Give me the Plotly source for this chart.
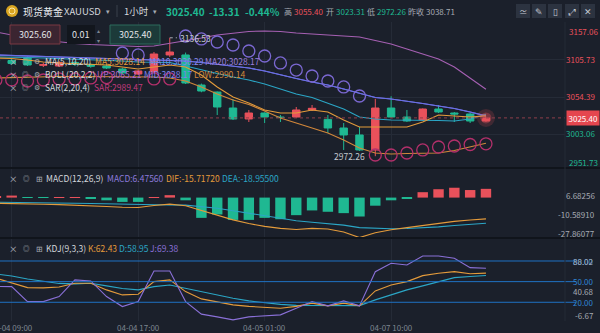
import plotly.graph_objects as go

# ---------------- data ----------------
time_labels = ["04-04 09:00", "04-04 17:00", "04-05 01:00", "04-07 10:00"]
time_label_idx = [1, 9, 17, 25]

opens = [3106.0, 3105.0, 3108.5, 3098.4, 3097.4, 3102.3, 3099.5, 3097.4, 3093.2, 3086.3,
         3089.1, 3112.7, 3112.7, 3071.0, 3061.3, 3039.1, 3023.9, 3032.2, 3026.6, 3026.6,
         3036.4, 3023.31, 3011.4, 3001.7, 2980.9, 3039.1, 3026.6, 3022.5, 3037.7, 3032.2,
         3030.8, 3021.1]
highs = [3109.0, 3108.0, 3110.6, 3102.0, 3104.3, 3104.3, 3101.0, 3099.5, 3095.0, 3092.0,
         3116.8, 3136.53, 3116.0, 3073.0, 3062.0, 3051.6, 3036.4, 3033.0, 3029.4, 3040.5,
         3043.3, 3029.4, 3018.3, 3012.8, 3052.0, 3055.40, 3036.4, 3038.5, 3043.3, 3033.6,
         3032.2, 3027.0]
lows = [3102.0, 3099.0, 3097.4, 3096.0, 3096.0, 3097.4, 3095.0, 3093.2, 3086.3, 3084.9,
        3088.0, 3109.9, 3072.4, 3061.0, 3029.4, 3022.5, 3019.7, 3018.3, 3019.7, 3025.3,
        3035.0, 3004.5, 2980.9, 2979.5, 2972.26, 3025.3, 3019.7, 3021.1, 3032.2, 3019.7,
        3018.3, 3020.0]
closes = [3104.0, 3101.0, 3098.8, 3099.2, 3102.3, 3099.5, 3097.0, 3094.6, 3087.7, 3090.5,
          3114.0, 3116.8, 3073.8, 3062.7, 3040.5, 3023.9, 3032.2, 3026.6, 3025.9, 3036.4,
          3038.71, 3011.4, 3001.7, 2980.9, 3039.1, 3026.6, 3021.1, 3037.7, 3033.6, 3030.8,
          3021.1, 3025.40]

ma5 = [3108.5, 3107.8, 3105.7, 3103.0, 3101.6, 3100.9, 3100.2, 3098.8, 3096.0, 3093.2,
       3096.0, 3098.8, 3096.0, 3084.9, 3068.3, 3054.4, 3046.1, 3036.4, 3032.2, 3032.2,
       3036.4, 3033.6, 3022.5, 3012.8, 3012.8, 3012.8, 3012.8, 3019.7, 3029.4, 3028.0,
       3026.6, 3028.14]
ma10 = [3109.9, 3109.9, 3109.2, 3108.5, 3107.8, 3107.1, 3106.4, 3105.7, 3104.3, 3103.0,
        3103.0, 3102.3, 3097.4, 3091.8, 3087.0, 3082.1, 3078.0, 3072.4, 3065.5, 3058.6,
        3053.7, 3046.1, 3037.7, 3026.6, 3023.9, 3022.5, 3022.5, 3022.5, 3021.8, 3021.1,
        3023.9, 3030.29]
ma20 = [3112.7, 3112.0, 3111.3, 3110.6, 3109.9, 3109.2, 3108.5, 3107.8, 3107.1, 3106.4,
        3105.7, 3105.0, 3104.3, 3102.3, 3099.5, 3096.7, 3094.6, 3090.5, 3084.9, 3080.1,
        3075.2, 3071.0, 3065.5, 3059.9, 3053.7, 3051.6, 3048.8, 3045.4, 3041.9, 3038.4,
        3033.6, 3028.17]
boll_up = [3144.6, 3140.4, 3136.2, 3133.5, 3130.7, 3128.6, 3127.2, 3126.5, 3125.1, 3124.5,
           3125.1, 3128.6, 3132.1, 3136.2, 3140.4, 3143.2, 3145.3, 3146.0, 3145.3, 3143.2,
           3141.8, 3140.4, 3139.0, 3137.6, 3132.8, 3127.9, 3121.0, 3114.0, 3107.1, 3096.0,
           3080.8, 3065.21]
boll_mid = [3112.7, 3112.0, 3111.3, 3110.6, 3109.9, 3109.2, 3108.5, 3107.8, 3107.1, 3106.4,
            3105.7, 3105.0, 3104.3, 3102.3, 3099.5, 3096.7, 3094.6, 3090.5, 3084.9, 3080.1,
            3075.2, 3071.0, 3065.5, 3059.9, 3053.7, 3051.6, 3048.8, 3045.4, 3041.9, 3038.4,
            3033.6, 3028.17]
boll_low = [3080.8, 3081.4, 3082.1, 3082.8, 3082.8, 3082.8, 3082.8, 3082.1, 3082.1, 3082.1,
            3082.1, 3080.8, 3076.6, 3068.3, 3058.6, 3050.2, 3044.0, 3035.0, 3025.3, 3018.3,
            3011.4, 3004.5, 2994.7, 2983.6, 2976.7, 2975.3, 2976.0, 2976.7, 2976.7, 2980.2,
            2985.0, 2990.14]
sar = [3078.0, 3078.0, 3076.6, 3078.0, 3079.4, 3079.4, 3080.8, 3081.4, 3115.4, 3112.7,
       3079.4, 3079.4, 3139.0, 3134.9, 3130.7, 3126.5, 3118.2, 3111.3, 3101.6, 3091.8,
       3083.5, 3076.6, 3068.3, 3055.8, 2973.9, 2973.9, 2976.7, 2980.9, 2985.0, 2986.4,
       2988.5, 2989.47]

dif = [-4.2, -4.3, -4.6, -4.9, -5.2, -5.5, -6.0, -6.6, -7.2, -7.3, -5.8, -4.8, -6.0, -9.5,
       -13.0, -16.5, -19.2, -21.3, -22.8, -23.6, -22.8, -23.2, -25.5, -29.6, -26.0, -23.8,
       -22.2, -20.5, -19.0, -17.6, -16.6, -15.7172]
dea = [-3.45, -3.5, -3.6, -3.8, -4.0, -4.2, -4.4, -4.7, -5.0, -5.3, -5.5, -5.5, -5.6, -6.5,
       -7.9, -9.7, -11.6, -13.6, -15.4, -17.1, -18.2, -19.2, -20.4, -22.2, -22.9, -23.1,
       -22.9, -22.4, -21.7, -20.7, -19.9, -18.955]
macd_hist = [0.9, 1.5, -0.3, -0.3, 0.3, 0.3, -0.4, -2.0, -3.2, -3.2, 0.3, 1.8, -2.0, -15.0,
             -12.5, -16.5, -16.5, -15.0, -16.0, -13.0, -9.5, -10.5, -11.5, -14.0, -6.0, -2.0,
             -0.7, 4.0, 6.2, 7.3, 5.6, 6.4756]

k_line = [55.0, 48.5, 41.3, 40.9, 42.3, 47.7, 47.7, 38.0, 30.7, 31.7, 50.0, 52.5, 35.5, 24.9,
          20.6, 16.2, 14.0, 12.6, 11.4, 14.0, 18.7, 14.8, 18.7, 14.8, 36.5, 45.2, 50.0, 58.7,
          62.2, 64.5, 61.5, 62.43]
d_line = [61.0, 58.3, 53.9, 50.3, 47.4, 46.7, 47.7, 43.8, 40.1, 38.0, 42.8, 45.2, 40.1, 35.5,
          30.7, 25.9, 22.0, 19.1, 17.0, 15.5, 15.5, 16.2, 15.8, 15.2, 23.5, 30.7, 38.0, 43.8,
          50.0, 55.8, 57.5, 58.95]
j_line = [43.0, 42.8, 21.0, 21.0, 28.3, 52.5, 51.0, 28.3, 13.8, 21.0, 65.5, 65.5, 21.0, 2.8,
          -1.2, -5.5, -1.2, 0.7, 1.7, 11.2, 21.0, 14.8, 22.0, 14.8, 64.5, 76.7, 74.2, 87.2,
          87.2, 83.9, 70.3, 69.38]

price_ticks = [3105.73, 3054.39, 3003.06]
last_price = 3025.40
kdj_levels = [80, 50, 20]

# ---------------- style ----------------
BG = "#1b202b"
GRID = "#252b37"
RED = "#e9515b"
GREEN = "#1fb892"
ORANGE = "#e49b3b"
ORANGE2 = "#d2873a"
CYAN = "#2ba6c6"
VIOLET = "#6b6fe3"
UPC = "#a660b3"
SAR_HI = "#7b68d2"
SAR_LO = "#b3306b"
PURPLE = "#8a70d8"
TXT = "#d3d6dc"
GREY = "#a6abb3"
KBLUE = "#1f72c4"
FONT = "Noto Sans CJK SC, Noto Sans, sans-serif"

W, H = 600, 333
MB = 12
PH = H - MB          # plot-area height (px)
XR = 565             # right edge of the panes (px)


def xp(px):
    return px / W


def yp(px):
    return (PH - px) / PH


n = len(closes)
idx = list(range(n))
x_lo, x_hi = 0.26, 36.0

fig = go.Figure()

# ---- main pane ----
fig.add_trace(go.Candlestick(
    x=idx, open=opens, high=highs, low=lows, close=closes,
    increasing=dict(line=dict(color=RED, width=1), fillcolor=RED),
    decreasing=dict(line=dict(color=GREEN, width=1), fillcolor=GREEN),
    whiskerwidth=0, xaxis="x", yaxis="y", hoverinfo="skip"))

for series, color in [(boll_up, UPC), (boll_low, ORANGE2), (boll_mid, VIOLET),
                      (ma20, VIOLET), (ma10, CYAN), (ma5, ORANGE)]:
    fig.add_trace(go.Scatter(x=idx, y=series, mode="lines", xaxis="x", yaxis="y",
                             line=dict(color=color, width=1.1), hoverinfo="skip"))

sar_colors = [SAR_HI if s > c else SAR_LO for s, c in zip(sar, closes)]
fig.add_trace(go.Scatter(x=idx, y=sar, mode="markers", xaxis="x", yaxis="y",
                         marker=dict(symbol="circle-open", size=12, color=sar_colors,
                                     line=dict(width=1.3)), hoverinfo="skip"))

# soft glow on the live candle
for sz, op in [(18, 0.18), (11, 0.35)]:
    fig.add_trace(go.Scatter(x=[idx[-1]], y=[last_price], mode="markers", xaxis="x", yaxis="y",
                             marker=dict(size=sz, color=f"rgba(233,81,91,{op})"),
                             hoverinfo="skip"))

# ---- MACD pane ----
fig.add_trace(go.Bar(x=idx, y=macd_hist, xaxis="x2", yaxis="y2", width=0.66,
                     marker=dict(color=[RED if v >= 0 else GREEN for v in macd_hist],
                                 line=dict(width=0)), hoverinfo="skip"))
fig.add_trace(go.Scatter(x=idx, y=dea, mode="lines", xaxis="x2", yaxis="y2",
                         line=dict(color=CYAN, width=1.1), hoverinfo="skip"))
fig.add_trace(go.Scatter(x=idx, y=dif, mode="lines", xaxis="x2", yaxis="y2",
                         line=dict(color=ORANGE, width=1.1), hoverinfo="skip"))

# ---- KDJ pane ----
for series, color in [(d_line, CYAN), (k_line, ORANGE), (j_line, PURPLE)]:
    fig.add_trace(go.Scatter(x=idx, y=series, mode="lines", xaxis="x3", yaxis="y3",
                             line=dict(color=color, width=1.1), hoverinfo="skip"))

# ---------------- axes ----------------
xcommon = dict(domain=[0, xp(XR)], range=[x_lo, x_hi], showgrid=True, gridcolor=GRID,
               gridwidth=1, zeroline=False, showline=False, ticks="",
               tickvals=time_label_idx, showticklabels=False,
               rangeslider=dict(visible=False), fixedrange=True)

tick_colored = [f"<span style='color:{RED if v > last_price else GREEN}'>{v:.2f}</span>"
                for v in price_ticks]

fig.update_layout(
    width=W, height=H,
    margin=dict(l=0, r=0, t=0, b=MB),
    paper_bgcolor=BG, plot_bgcolor=BG,
    showlegend=False, hovermode=False, boxgap=0.33,
    font=dict(family=FONT, color=TXT, size=9),
    xaxis=dict(**xcommon, anchor="y"),
    xaxis2=dict(**xcommon, anchor="y2", matches="x"),
    xaxis3=dict(**xcommon, anchor="y3", matches="x"),
    yaxis=dict(domain=[yp(168), yp(22)], range=[2955.89, 3158.44], side="right",
               anchor="x", tickvals=price_ticks, ticktext=tick_colored,
               tickfont=dict(size=8), showgrid=True, gridcolor=GRID, zeroline=False,
               ticks="", fixedrange=True),
    yaxis2=dict(domain=[yp(238), yp(168)], range=[-29.9, 21.9], anchor="x2",
                showticklabels=False, showgrid=False, zeroline=False, fixedrange=True),
    yaxis3=dict(domain=[0, yp(238)], range=[-7.2, 113.4], anchor="x3",
                showticklabels=False, showgrid=False, zeroline=False, fixedrange=True),
)

# ---------------- shapes ----------------
shapes = []
# KDJ reference levels
for lv in kdj_levels:
    shapes.append(dict(type="line", xref="paper", yref="y3", x0=0, x1=xp(576), y0=lv, y1=lv,
                       line=dict(color=KBLUE, width=1)))
# live price dotted line
shapes.append(dict(type="line", xref="paper", yref="y", x0=0, x1=xp(XR), y0=last_price,
                   y1=last_price, line=dict(color="#8e3f4a", width=1, dash="dot")))
# pane separators
for py_ in (168, 238):
    shapes.append(dict(type="line", xref="paper", yref="paper", x0=0, x1=1, y0=yp(py_),
                       y1=yp(py_), line=dict(color="#10141b", width=2)))
shapes.append(dict(type="line", xref="paper", yref="paper", x0=xp(XR), x1=xp(XR),
                   y0=0, y1=yp(22), line=dict(color=GRID, width=1)))
# pointer to the high label
shapes.append(dict(type="line", xref="x", yref="y", x0=11, x1=11.45, y0=3136.53, y1=3136.53,
                   line=dict(color=GREY, width=1, dash="dot")))
# header: coin icon, separator, tool buttons
shapes.append(dict(type="circle", xref="paper", yref="paper", x0=xp(6), x1=xp(18),
                   y0=yp(17), y1=yp(5), fillcolor="#d9a521", line=dict(width=0)))
shapes.append(dict(type="circle", xref="paper", yref="paper", x0=xp(9), x1=xp(15),
                   y0=yp(14), y1=yp(8), fillcolor="rgba(0,0,0,0)",
                   line=dict(color="#fbe7a8", width=1)))
shapes.append(dict(type="line", xref="paper", yref="paper", x0=xp(117), x1=xp(117),
                   y0=yp(17), y1=yp(5), line=dict(color="#3a404c", width=1)))
for cx in (523, 539, 555, 572, 588):
    shapes.append(dict(type="rect", xref="paper", yref="paper", x0=xp(cx - 7), x1=xp(cx + 7),
                       y0=yp(18), y1=yp(4), fillcolor="#2c3340", line=dict(width=0)))
# order-entry boxes
shapes.append(dict(type="rect", xref="paper", yref="paper", x0=xp(10), x1=xp(60),
                   y0=yp(44), y1=yp(25), fillcolor="#3b2531", line=dict(color="#7a3843", width=1)))
shapes.append(dict(type="rect", xref="paper", yref="paper", x0=xp(67), x1=xp(95),
                   y0=yp(44), y1=yp(25), fillcolor="#12161d", line=dict(width=0)))
shapes.append(dict(type="rect", xref="paper", yref="paper", x0=xp(110), x1=xp(160),
                   y0=yp(44), y1=yp(25), fillcolor="#1c3a39", line=dict(color="#2d6b5d", width=1)))
fig.update_layout(shapes=shapes)

# ---------------- annotations ----------------
anns = []


def ann(px, py, text, color=TXT, size=8.5, anchor="left", yref="paper", yval=None, **kw):
    anns.append(dict(x=xp(px), y=yp(py) if yval is None else yval, xref="paper", yref=yref,
                     text=text, showarrow=False, xanchor=anchor, yanchor="middle",
                     font=dict(color=color, size=size, family=FONT), **kw))


# time axis labels, centred on their candles (the first one runs off the left edge)
for tv, tl in zip(time_label_idx, time_labels):
    anns.append(dict(x=tv, xref="x3", y=yp(327.5), yref="paper", text=tl, showarrow=False,
                     xanchor="center", yanchor="middle",
                     font=dict(color="#7d8590", size=8, family=FONT)))

# header
ann(21, 11, "现货黄金", "#e8eaee", 10)
ann(62, 11, "XAUUSD", "#d3d6dc", 9.5)
ann(104, 11, "▾", GREY, 7)
ann(122, 11, "1小时", "#d3d6dc", 9.5)
ann(151, 11, "▾", GREY, 7)
ann(164, 11, "<b>3025.40</b>", GREEN, 10)
ann(207, 11, "<b>-13.31</b>", GREEN, 10)
ann(243, 11, "<b>-0.44%</b>", GREEN, 10)
ann(282, 11, "高", GREY, 8)
ann(292, 11, "3055.40", RED, 8)
ann(324, 11, "开", GREY, 8)
ann(334, 11, "3023.31", GREEN, 8)
ann(365, 11, "低", GREY, 8)
ann(375, 11, "2972.26", GREEN, 8)
ann(406, 11, "昨收", GREY, 8)
ann(424, 11, "3038.71", GREY, 8)
for cx, glyph in zip((523, 539, 555, 572, 588), ("≃", "✎", "▯", "⤢", "✕")):
    ann(cx, 11, glyph, "#c3c8d0", 8.5, anchor="center")

# order boxes
ann(35, 34.5, "3025.60", "#e2e4e8", 9, anchor="center")
ann(81, 34.5, "0.01", "#e2e4e8", 9, anchor="center")
ann(98.5, 30, "▴", "#7d8590", 6, anchor="center")
ann(98.5, 40, "▾", "#7d8590", 6, anchor="center")
ann(135, 34.5, "3025.40", "#e2e4e8", 9, anchor="center")

# indicator legends (main pane)
for py_ in (61, 74, 87):
    ann(13, py_, "×", GREY, 8.5, anchor="center")
    ann(25, py_, "◎", GREY, 6.5, anchor="center")
    ann(37, py_, "⚙", GREY, 7, anchor="center")
ann(43, 61, "MA(5,10,20)", TXT)
ann(93, 61, "MA5:3028.14", ORANGE)
ann(147, 61, "MA10:3030.29", "#8587ee")
ann(203, 61, "MA20:3028.17", "#9a7ddb")
ann(43, 74, "BOLL(20,2,2)", TXT)
ann(95, 74, "UP:3065.21", "#b06ad0")
ann(142, 74, "MID:3028.17", "#7b80ee")
ann(192, 74, "LOW:2990.14", ORANGE2)
ann(43, 87, "SAR(2,20,4)", TXT)
ann(92, 87, "SAR:2989.47", "#c23a7c")

# extreme price labels
ann(178, 0, "3136.53", "#c5c9d0", 8.5, yref="y", yval=3136.53)
ann(367, 0, "2972.26", "#c5c9d0", 8.5, anchor="right", yref="y", yval=2972.26)

# price axis labels pinned at the pane edges + live price tag
ann(567, 31, "3157.06", RED, 8)
ann(567, 162, "2951.73", GREEN, 8)
anns.append(dict(x=xp(566), y=last_price, xref="paper", yref="y", text="3025.40",
                 showarrow=False, xanchor="left", yanchor="middle", bgcolor="#e5464f",
                 borderpad=1.5, font=dict(color="#ffffff", size=8, family=FONT)))

# MACD legend and scale
ann(13, 178, "×", GREY, 8.5, anchor="center")
ann(26, 178, "◎", GREY, 6.5, anchor="center")
ann(39, 178, "⊞", GREY, 7.5, anchor="center")
ann(44, 178, "MACD(12,26,9)", TXT)
ann(105, 178, "MACD:6.47560", "#8d7bdc")
ann(164, 178, "DIF:-15.71720", ORANGE)
ann(220, 178, "DEA:-18.95500", CYAN)
ann(597, 195.7, "6.68256", GREY, 8, anchor="right")
ann(597, 214.6, "-10.58910", GREY, 8, anchor="right")
ann(597, 233.5, "-27.86077", GREY, 8, anchor="right")

# KDJ legend and scale
ann(13, 248, "×", GREY, 8.5, anchor="center")
ann(26, 248, "◎", GREY, 6.5, anchor="center")
ann(39, 248, "⊞", GREY, 7.5, anchor="center")
ann(44, 248, "KDJ(9,3,3)", TXT)
ann(86, 248, "K:62.43", ORANGE)
ann(117, 248, "D:58.95", CYAN)
ann(148, 248, "J:69.38", PURPLE)
ann(596, 261, "80.00", "#2f86d6", 8, anchor="right")
ann(596, 261, "88.02", GREY, 8, anchor="right")
ann(596, 281.7, "50.00", "#2f86d6", 8, anchor="right")
ann(596, 291, "40.68", GREY, 8, anchor="right")
ann(596, 302.3, "20.00", "#2f86d6", 8, anchor="right")
ann(596, 315.7, "-6.67", GREY, 8, anchor="right")

fig.update_layout(annotations=anns)

fig.write_html("out.html")
